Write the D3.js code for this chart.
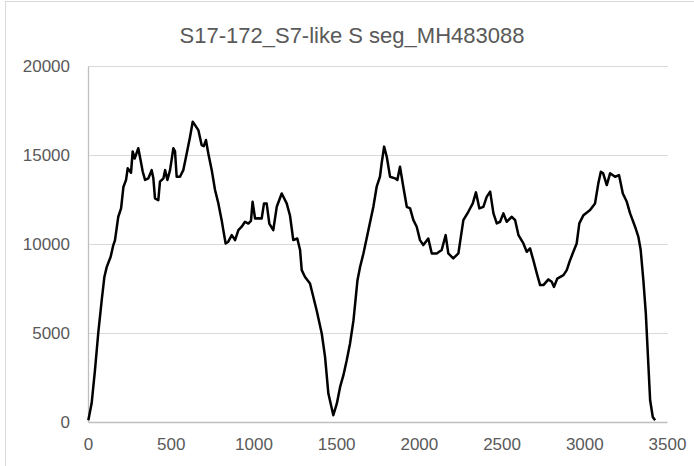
<!DOCTYPE html>
<html>
<head>
<meta charset="utf-8">
<script src="https://cdn.jsdelivr.net/npm/d3@7/dist/d3.min.js"></script>
<style>
  body { margin: 0; background: #fff; }
  svg { display: block; font-family: "Liberation Sans", Arial, sans-serif; }
  .tick text { fill: #595959; }
</style>
</head>
<body>
<div id="chart"></div>
<script>
const title = "S17-172_S7-like S seg_MH483088";
const xTicks = [0, 500, 1000, 1500, 2000, 2500, 3000, 3500];
const yTicks = [0, 5000, 10000, 15000, 20000];

// position along the segment, read coverage off the picture
const positions = [2, 22, 42, 62, 83, 99, 113, 137, 153, 163, 183, 200, 214, 230, 240, 260, 270, 282, 304, 318,
  331, 345, 365, 385, 395, 405, 425, 435, 456, 466, 480, 496, 516, 526, 536, 556, 576, 597, 617, 633,
  647, 667, 687, 700, 713, 727, 748, 768, 788, 808, 818, 832, 848, 869, 889, 909, 929, 949, 969, 985,
  995, 1010, 1030, 1050, 1064, 1080, 1096, 1120, 1141, 1171, 1201, 1221, 1241, 1265, 1282, 1292, 1312, 1342, 1382, 1413,
  1433, 1453, 1483, 1504, 1524, 1544, 1564, 1584, 1605, 1629, 1645, 1665, 1695, 1725, 1745, 1765, 1775, 1790, 1806, 1826,
  1856, 1870, 1886, 1906, 1927, 1947, 1967, 1987, 2007, 2027, 2057, 2078, 2108, 2138, 2162, 2178, 2208, 2239, 2269, 2299,
  2326, 2345, 2366, 2390, 2410, 2431, 2451, 2471, 2491, 2511, 2531, 2562, 2582, 2602, 2632, 2652, 2672, 2692, 2713, 2733,
  2753, 2783, 2803, 2817, 2837, 2874, 2894, 2914, 2934, 2954, 2970, 2995, 3035, 3065, 3085, 3100, 3114, 3136, 3156, 3186,
  3210, 3233, 3257, 3277, 3307, 3327, 3341, 3357, 3372, 3384, 3398, 3414, 3428];
const coverage = [100, 1050, 2900, 5000, 6850, 8150, 8700, 9280, 9940, 10200, 11530, 12000, 13200, 13600, 14250, 14000, 15200, 14800, 15380, 14700,
  14060, 13600, 13690, 14150, 13700, 12560, 12460, 13500, 13690, 14150, 13600, 14150, 15380, 15200, 13780, 13780, 14150, 15100, 16030, 16870,
  16680, 16400, 15560, 15500, 15840, 15100, 14150, 13030, 12280, 11340, 10780, 10030, 10130, 10500, 10220, 10780, 10970, 11250, 11150, 11300,
  12370, 11430, 11440, 11430, 12280, 12280, 11150, 10780, 12090, 12840, 12280, 11600, 10220, 10310, 9660, 8530, 8150, 7780, 6280, 4970,
  3660, 1600, 380, 1030, 1970, 2630, 3470, 4410, 5720, 7970, 8720, 9470, 10780, 12090, 13220, 13780, 14530, 15470, 14900, 13780,
  13690, 13600, 14340, 13220, 12090, 12000, 11340, 10970, 10220, 9940, 10310, 9470, 9470, 9660, 10500, 9470, 9190, 9470, 11340, 11810,
  12280, 12900, 12000, 12090, 12650, 12940, 11720, 11160, 11250, 11720, 11250, 11530, 11340, 10500, 10030, 9560, 9750, 9090, 8350, 7690,
  7690, 8010, 7880, 7590, 8060, 8250, 8530, 9090, 9560, 10030, 11160, 11620, 11910, 12280, 13410, 14060, 13970, 13310, 13970, 13780,
  13870, 12840, 12370, 11720, 10970, 10400, 9660, 7970, 6100, 3850, 1220, 280, 100];

const width = 694, height = 466;
const margin = { top: 66, right: 27, bottom: 44, left: 88 };

const svg = d3.select("#chart").append("svg").attr("width", width).attr("height", height);

// chart frame
svg.append("rect").attr("x", 5.5).attr("y", 1.5).attr("width", 700).attr("height", 480)
  .attr("fill", "none").attr("stroke", "#d9d9d9");

const x = d3.scaleLinear().domain([0, 3500]).range([margin.left, width - margin.right]);
const y = d3.scaleLinear().domain([0, 20000]).range([height - margin.bottom, margin.top]);

svg.append("g").selectAll("line").data(yTicks.slice(1)).join("line")
  .attr("x1", margin.left).attr("x2", width - margin.right + 1)
  .attr("y1", (d) => Math.round(y(d)) + 0.5).attr("y2", (d) => Math.round(y(d)) + 0.5)
  .attr("stroke", "#d9d9d9").attr("stroke-width", 1);

const yAxis = svg.append("g").attr("transform", `translate(${margin.left},0)`)
  .call(d3.axisLeft(y).tickValues(yTicks).tickSize(0).tickPadding(18).tickFormat(d3.format("d")));
yAxis.select(".domain").attr("stroke", "#bfbfbf").attr("stroke-width", 1.3);
yAxis.selectAll("text").attr("font-size", 17);

const xAxis = svg.append("g").attr("transform", `translate(0,${height - margin.bottom})`)
  .call(d3.axisBottom(x).tickValues(xTicks).tickSize(0).tickPadding(16).tickFormat(d3.format("d")));
xAxis.select(".domain").attr("stroke", "#bfbfbf").attr("stroke-width", 1.5);
xAxis.selectAll("text").attr("font-size", 17);

const points = positions.map((p, i) => [p, coverage[i]]);
svg.append("path").datum(points)
  .attr("fill", "none").attr("stroke", "#000").attr("stroke-width", 2.5)
  .attr("stroke-linejoin", "round")
  .attr("d", d3.line().x((d) => x(d[0])).y((d) => y(d[1])));

svg.append("text").attr("x", 352).attr("y", 43).attr("text-anchor", "middle")
  .attr("font-size", 22).attr("fill", "#595959").text(title);
</script>
</body>
</html>
